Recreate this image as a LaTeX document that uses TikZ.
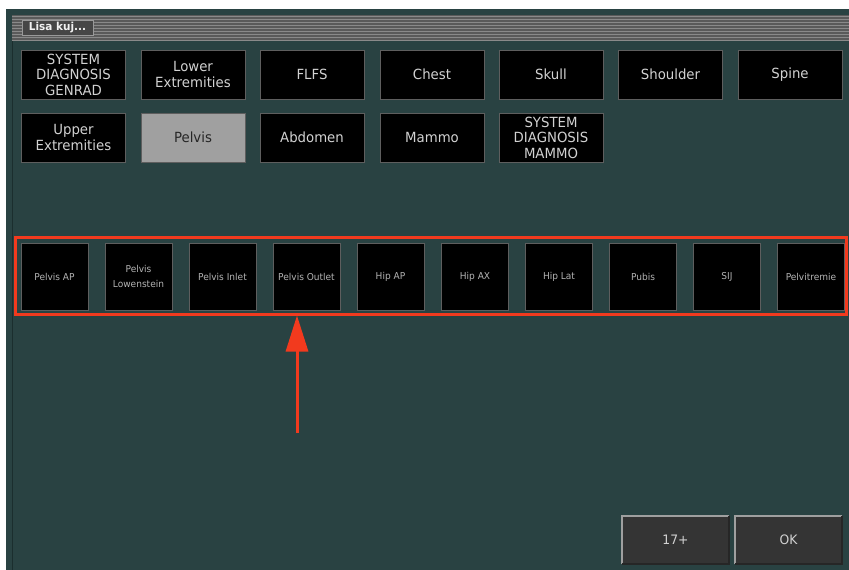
\documentclass[tikz,border=0pt]{standalone}
\usepackage{fontspec}
\setmainfont{DejaVu Sans}[FakeStretch=0.95]
\usetikzlibrary{arrows.meta}
\definecolor{panel}{HTML}{294242}
\definecolor{panelline}{HTML}{1B2E2E}
\definecolor{barbase}{HTML}{5A5A5A}
\definecolor{barstripe}{HTML}{8A8A8A}
\definecolor{keyedge}{HTML}{5E5E5E}
\definecolor{keytext}{HTML}{D2D2D2}
\definecolor{smalltext}{HTML}{B4B4B4}
\definecolor{chosen}{HTML}{A0A0A0}
\definecolor{softfill}{HTML}{343434}
\definecolor{alertred}{HTML}{F23A1E}
\tikzset{
  bigkey/.style={draw=keyedge, fill=black, text=keytext, inner sep=0pt,
    minimum width=104pt, minimum height=49pt, align=center,
    font=\fontsize{14}{15.5}\selectfont},
  smallkey/.style={draw=keyedge, fill=black, text=smalltext, inner sep=0pt,
    minimum width=67pt, minimum height=67pt, align=center,
    font=\fontsize{9.5}{15}\selectfont},
  softkey/.style={fill=softfill, text=keytext, inner sep=0pt,
    minimum width=107pt, minimum height=48pt,
    font=\fontsize{13}{14}\selectfont},
}
\begin{document}
\begin{tikzpicture}[x=1pt,y=-1pt]
\useasboundingbox (0,0) rectangle (849,570);
\fill[white] (0,0) rectangle (849,570);
\fill[panel] (6,9) rectangle (849,570);
\draw[panelline,line width=1.5pt] (12.5,40) -- (12.5,570);
%title bar
\fill[barbase] (12,15) rectangle (849,40);
\foreach \y in {16,19,...,40}
  \draw[barstripe,line width=0.8pt] (12,\y) -- (849,\y);
\node[fill=gray!55!black, draw=gray!80, text=white!90!gray, inner sep=0pt,
  minimum width=71pt, minimum height=15pt, font=\bfseries\fontsize{11}{11}\selectfont]
  (title) at (57.5,28) {Lisa kuj...};
%first row
\node[bigkey] (genrad) at (73.5,74.5) {SYSTEM\\DIAGNOSIS\\GENRAD};
\node[bigkey] (lower) at (193,74.5) {Lower\\Extremities};
\node[bigkey] (flfs) at (312,74.5) {FLFS};
\node[bigkey] (chest) at (432,74.5) {Chest};
\node[bigkey] (skull) at (551,74.5) {Skull};
\node[bigkey] (shoulder) at (670.5,74.5) {Shoulder};
\node[bigkey] (spine) at (790,74.5) {Spine};
%second row
\node[bigkey] (upper) at (73.5,137.5) {Upper\\Extremities};
\node[bigkey, fill=chosen, text=black!85] (pelvis) at (193,137.5) {Pelvis};
\node[bigkey] (abdomen) at (312,137.5) {Abdomen};
\node[bigkey] (mammo) at (432,137.5) {Mammo};
\node[bigkey] (sdmammo) at (551,137.5) {SYSTEM\\DIAGNOSIS\\MAMMO};
%views
\node[smallkey] (pap) at (54.5,276.5) {Pelvis AP};
\node[smallkey] (plow) at (138.5,276.5) {Pelvis\\Lowenstein};
\node[smallkey] (pinlet) at (222.5,276.5) {Pelvis Inlet};
\node[smallkey] (poutlet) at (306.5,276.5) {Pelvis Outlet};
\node[smallkey] (hipap) at (390.5,276.5) {Hip AP};
\node[smallkey] (hipax) at (475,276.5) {Hip AX};
\node[smallkey] (hiplat) at (559,276.5) {Hip Lat};
\node[smallkey] (pubis) at (643,276.5) {Pubis};
\node[smallkey] (sij) at (727,276.5) {SIJ};
\node[smallkey] (pelvitremie) at (811,276.5) {Pelvitremie};
\node[draw=alertred, line width=3pt, inner sep=0pt, minimum width=831pt,
  minimum height=77pt] (frame) at (430.5,275.5) {};
%arrow
\coordinate (tail) at (297,433);
\draw[alertred, line width=3pt, -{Triangle[width=22pt,length=36pt]}]
  (tail) -- (tail |- frame.south);
%soft keys
\node[softkey] (more) at (675.5,540) {17+};
\node[softkey] (ok) at (788.5,540) {OK};
\draw[gray!75, line width=1.5pt] (more.south west) -- (more.north west) -- (more.north east);
\draw[black!85, line width=1.5pt] (more.north east) -- (more.south east) -- (more.south west);
\draw[gray!75, line width=1.5pt] (ok.south west) -- (ok.north west) -- (ok.north east);
\draw[black!85, line width=1.5pt] (ok.north east) -- (ok.south east) -- (ok.south west);
\end{tikzpicture}
\end{document}
